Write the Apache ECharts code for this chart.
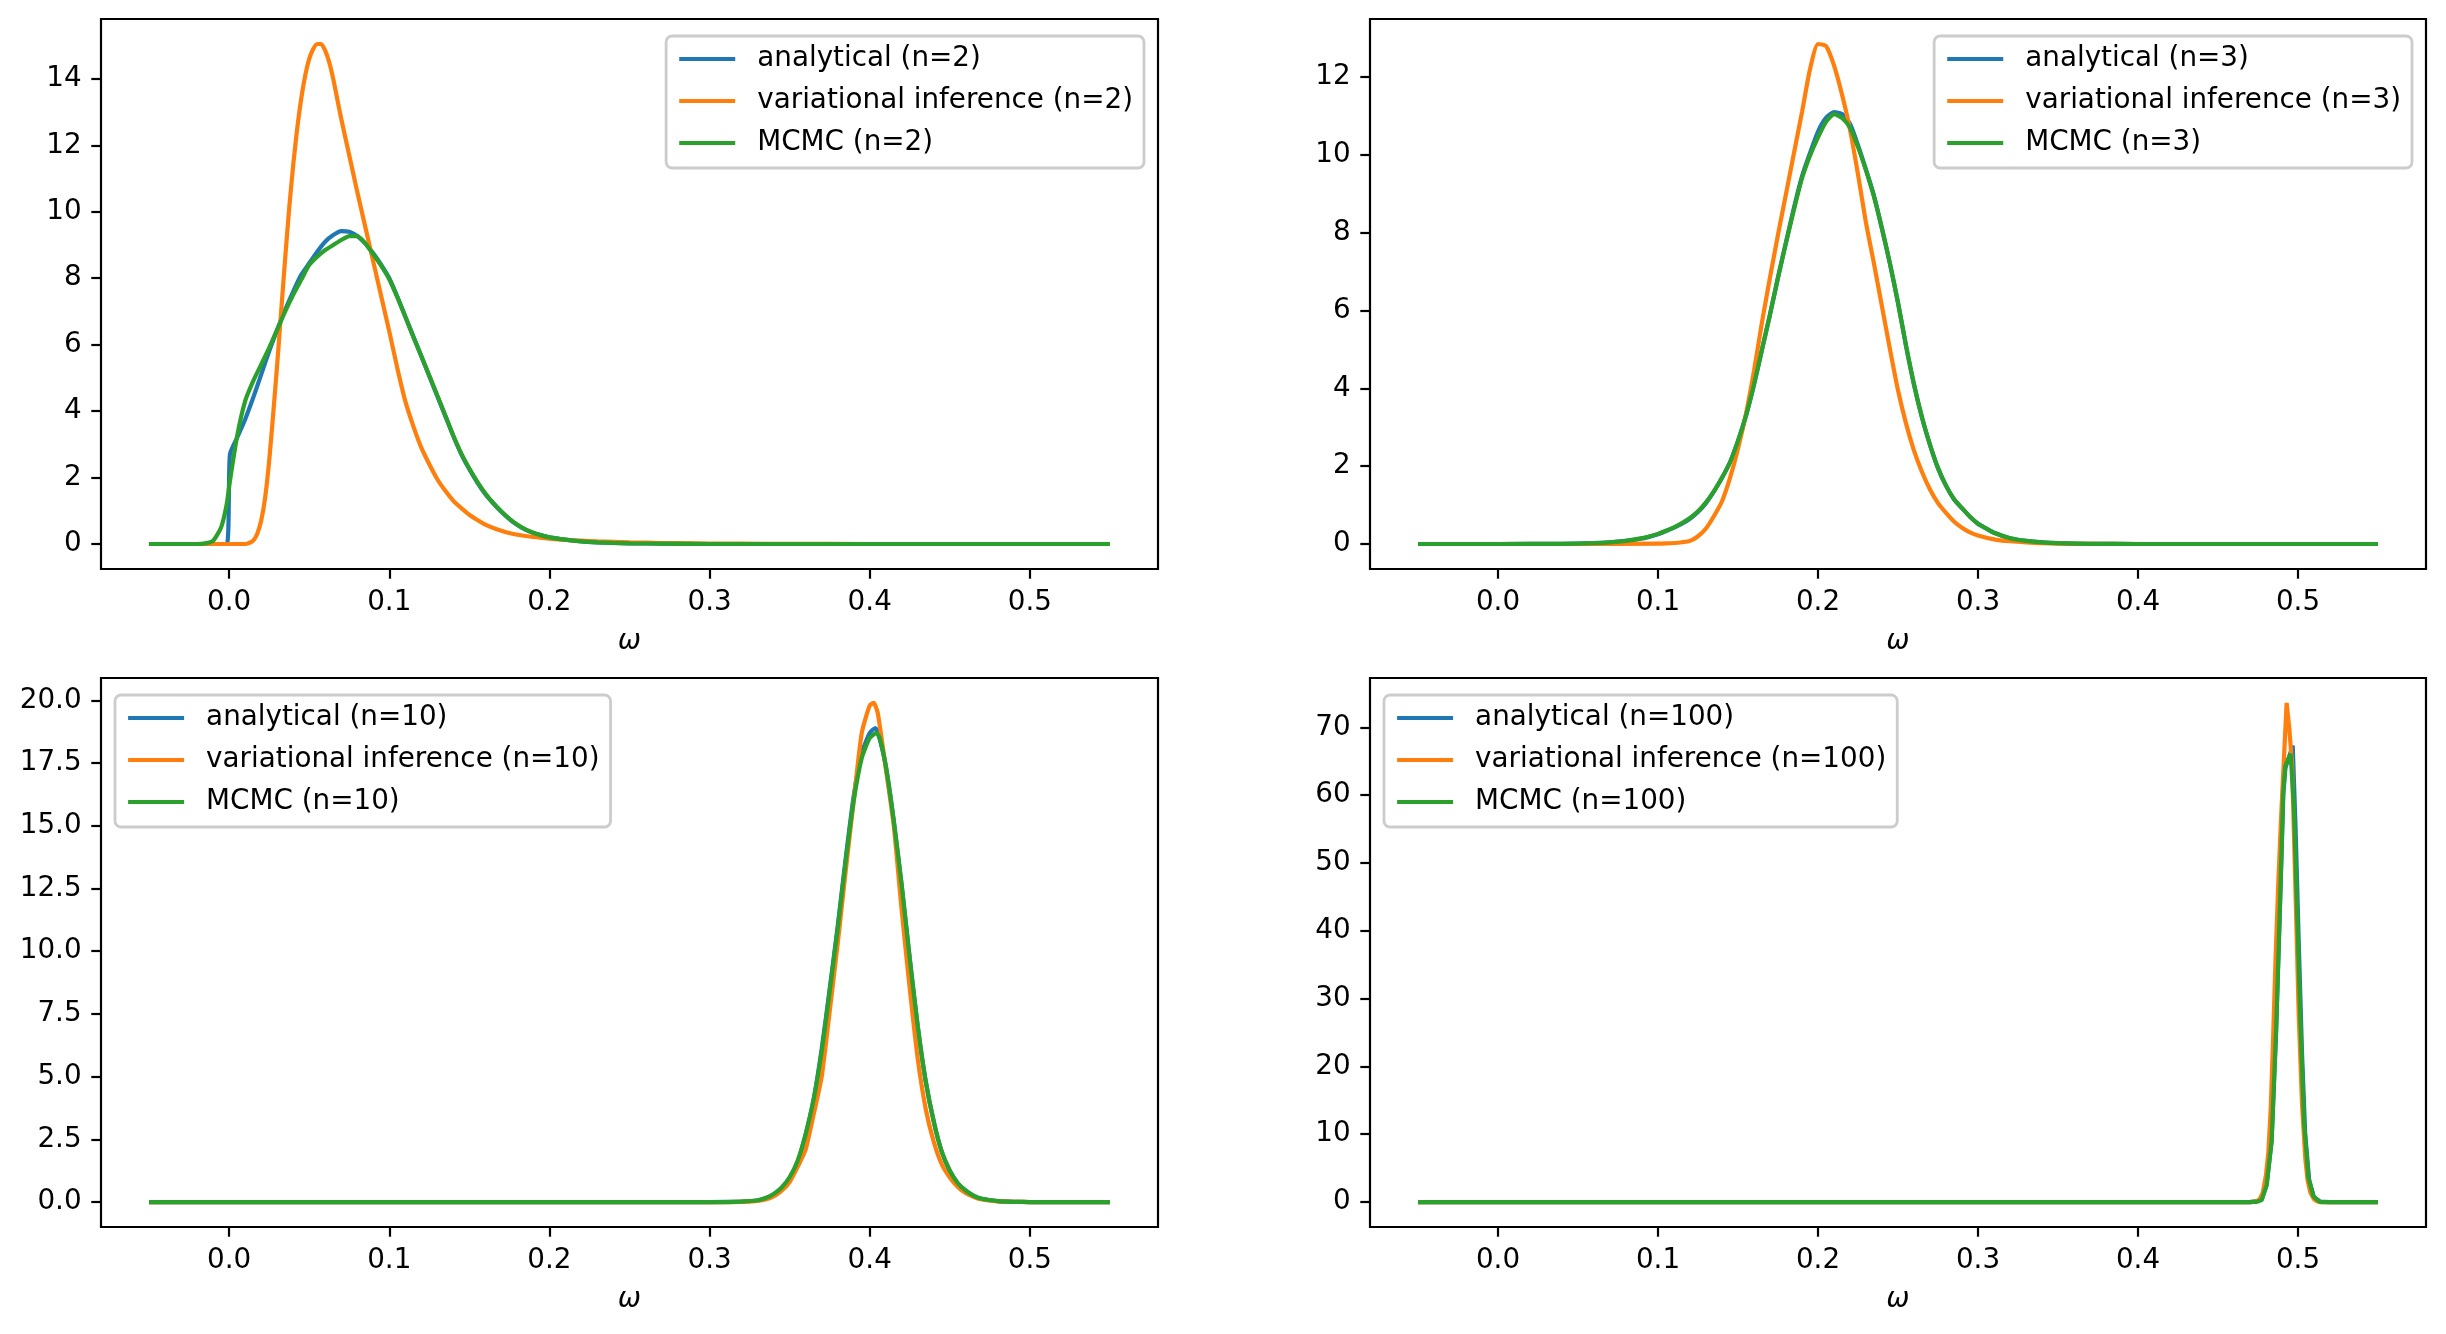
<!DOCTYPE html>
<html>
<head>
<meta charset="utf-8">
<script src="https://cdn.jsdelivr.net/npm/echarts@6/dist/echarts.min.js"></script>
<style>
html,body{margin:0;padding:0;background:#ffffff;}
#chart{width:2446px;height:1334px;}
</style>
</head>
<body>
<div id="chart"></div>
<script>
// ---------------- DATA ----------------
const sampleSizes = [2, 3, 10, 100];
const methods = ['analytical', 'variational inference', 'MCMC'];
const xTicks = [0, 0.1, 0.2, 0.3, 0.4, 0.5];
const yTicksN2 = [0, 2, 4, 6, 8, 10, 12, 14];
const yTicksN3 = [0, 2, 4, 6, 8, 10, 12];
const yTicksN10 = [0, 2.5, 5, 7.5, 10, 12.5, 15, 17.5, 20];
const yTicksN100 = [0, 10, 20, 30, 40, 50, 60, 70];

// n = 2
const analyticalN2 = [[-0.05,0],[-0.01,0],[-0.0015,0],[0.0005,2.7],[0.005,3.2],[0.01,3.75],[0.015,4.4],[0.02,5.1],[0.025,5.8],[0.03,6.45],[0.035,7.05],[0.04,7.6],[0.045,8.1],[0.05,8.45],[0.055,8.8],[0.06,9.1],[0.065,9.3],[0.07,9.42],[0.075,9.4],[0.08,9.27],[0.085,9.05],[0.09,8.75],[0.095,8.4],[0.1,8.0],[0.105,7.45],[0.11,6.85],[0.115,6.25],[0.12,5.65],[0.125,5.05],[0.13,4.45],[0.135,3.85],[0.14,3.25],[0.145,2.7],[0.15,2.25],[0.155,1.85],[0.16,1.5],[0.165,1.22],[0.17,0.97],[0.175,0.75],[0.18,0.57],[0.185,0.43],[0.19,0.33],[0.195,0.26],[0.2,0.2],[0.21,0.13],[0.22,0.08],[0.23,0.05],[0.24,0.03],[0.25,0.02],[0.27,0.01],[0.3,0],[0.55,0]];
const viN2 = [[-0.05,0],[0.01,0],[0.0125,0.03],[0.015,0.1],[0.0175,0.3],[0.02,0.7],[0.0225,1.4],[0.025,2.5],[0.0275,3.9],[0.03,5.4],[0.0325,7.0],[0.035,8.6],[0.0375,10.1],[0.04,11.4],[0.0425,12.5],[0.045,13.4],[0.0475,14.1],[0.05,14.6],[0.0525,14.9],[0.055,15.05],[0.0575,15.05],[0.06,14.85],[0.0625,14.5],[0.065,14.0],[0.0675,13.4],[0.07,12.8],[0.075,11.7],[0.08,10.6],[0.085,9.55],[0.09,8.5],[0.095,7.45],[0.1,6.4],[0.105,5.3],[0.11,4.3],[0.115,3.55],[0.12,2.9],[0.125,2.4],[0.13,1.95],[0.135,1.6],[0.14,1.3],[0.145,1.08],[0.15,0.88],[0.155,0.72],[0.16,0.58],[0.165,0.48],[0.17,0.4],[0.175,0.33],[0.18,0.28],[0.19,0.21],[0.2,0.16],[0.21,0.12],[0.22,0.1],[0.23,0.08],[0.24,0.065],[0.25,0.05],[0.26,0.04],[0.27,0.03],[0.28,0.025],[0.3,0.015],[0.32,0.01],[0.35,0.005],[0.4,0],[0.55,0]];
const mcmcN2 = [[-0.05,0],[-0.02,0],[-0.015,0.02],[-0.01,0.1],[-0.005,0.5],[-0.0015,1.2],[0.0005,1.9],[0.005,3.25],[0.01,4.3],[0.015,4.9],[0.02,5.4],[0.025,5.9],[0.03,6.45],[0.035,7.0],[0.04,7.5],[0.045,7.95],[0.05,8.4],[0.055,8.65],[0.06,8.85],[0.065,9.0],[0.07,9.15],[0.075,9.27],[0.08,9.27],[0.085,9.05],[0.09,8.72],[0.095,8.37],[0.1,7.97],[0.105,7.43],[0.11,6.84],[0.115,6.24],[0.12,5.66],[0.125,5.07],[0.13,4.47],[0.135,3.87],[0.14,3.26],[0.145,2.72],[0.15,2.27],[0.155,1.87],[0.16,1.52],[0.165,1.23],[0.17,0.98],[0.175,0.76],[0.18,0.58],[0.185,0.44],[0.19,0.34],[0.195,0.26],[0.2,0.2],[0.21,0.13],[0.22,0.08],[0.23,0.05],[0.24,0.03],[0.25,0.02],[0.27,0.01],[0.3,0],[0.55,0]];

// n = 3
const analyticalN3 = [[-0.05,0],[0.0,0],[0.04,0.005],[0.06,0.02],[0.07,0.04],[0.08,0.08],[0.09,0.14],[0.095,0.19],[0.1,0.25],[0.105,0.33],[0.11,0.42],[0.115,0.52],[0.12,0.65],[0.125,0.82],[0.13,1.05],[0.135,1.35],[0.14,1.7],[0.145,2.1],[0.15,2.65],[0.155,3.3],[0.16,4.1],[0.165,5.0],[0.17,5.9],[0.175,6.85],[0.18,7.75],[0.185,8.65],[0.19,9.45],[0.195,10.05],[0.2,10.6],[0.205,10.95],[0.21,11.1],[0.215,11.05],[0.22,10.8],[0.225,10.25],[0.23,9.62],[0.235,8.95],[0.24,8.1],[0.245,7.2],[0.25,6.2],[0.255,5.1],[0.26,4.1],[0.265,3.25],[0.27,2.55],[0.275,1.95],[0.28,1.5],[0.285,1.15],[0.29,0.92],[0.295,0.7],[0.3,0.52],[0.305,0.4],[0.31,0.29],[0.32,0.15],[0.33,0.08],[0.34,0.04],[0.35,0.02],[0.37,0.005],[0.4,0],[0.55,0]];
const viN3 = [[-0.05,0],[0.05,0],[0.1,0.01],[0.105,0.015],[0.11,0.025],[0.115,0.045],[0.12,0.08],[0.125,0.2],[0.13,0.4],[0.135,0.72],[0.14,1.1],[0.145,1.7],[0.15,2.45],[0.155,3.35],[0.16,4.45],[0.165,5.7],[0.17,6.85],[0.175,7.95],[0.18,9.0],[0.185,10.05],[0.19,11.1],[0.195,12.2],[0.2,12.85],[0.205,12.8],[0.21,12.3],[0.215,11.55],[0.22,10.65],[0.225,9.5],[0.23,8.25],[0.235,7.2],[0.24,6.1],[0.245,5.0],[0.25,3.95],[0.255,3.1],[0.26,2.4],[0.265,1.85],[0.27,1.4],[0.275,1.05],[0.28,0.8],[0.285,0.58],[0.29,0.42],[0.295,0.3],[0.3,0.22],[0.31,0.12],[0.32,0.07],[0.33,0.04],[0.34,0.02],[0.36,0.005],[0.4,0],[0.55,0]];
const mcmcN3 = [[-0.05,0],[0.0,0],[0.04,0.005],[0.06,0.02],[0.07,0.04],[0.08,0.08],[0.09,0.15],[0.095,0.2],[0.1,0.26],[0.105,0.34],[0.11,0.43],[0.115,0.54],[0.12,0.67],[0.125,0.84],[0.13,1.07],[0.135,1.36],[0.14,1.7],[0.145,2.1],[0.15,2.65],[0.155,3.3],[0.16,4.1],[0.165,5.0],[0.17,5.9],[0.175,6.85],[0.18,7.75],[0.185,8.6],[0.19,9.4],[0.195,9.98],[0.2,10.45],[0.205,10.85],[0.21,11.05],[0.215,10.95],[0.22,10.7],[0.225,10.2],[0.23,9.6],[0.235,8.92],[0.24,8.1],[0.245,7.2],[0.25,6.2],[0.255,5.1],[0.26,4.1],[0.265,3.25],[0.27,2.55],[0.275,1.95],[0.28,1.5],[0.285,1.15],[0.29,0.92],[0.295,0.7],[0.3,0.52],[0.305,0.4],[0.31,0.29],[0.32,0.15],[0.33,0.08],[0.34,0.04],[0.35,0.02],[0.37,0.005],[0.4,0],[0.55,0]];

// n = 10
const analyticalN10 = [[-0.05,0],[0.3,0],[0.32,0.02],[0.33,0.06],[0.335,0.15],[0.34,0.3],[0.345,0.55],[0.35,0.95],[0.355,1.6],[0.36,2.7],[0.365,4.1],[0.37,6.1],[0.375,8.5],[0.38,11.0],[0.385,13.7],[0.39,16.2],[0.395,17.9],[0.4,18.7],[0.4035,18.9],[0.405,18.75],[0.41,17.4],[0.415,15.2],[0.42,12.6],[0.425,9.7],[0.43,7.0],[0.435,4.8],[0.44,3.2],[0.445,2.0],[0.45,1.25],[0.455,0.75],[0.46,0.45],[0.465,0.25],[0.47,0.13],[0.48,0.04],[0.49,0.01],[0.5,0],[0.55,0]];
const viN10 = [[-0.05,0],[0.3,0],[0.32,0.01],[0.33,0.05],[0.335,0.1],[0.34,0.22],[0.345,0.45],[0.35,0.8],[0.355,1.4],[0.36,2.1],[0.365,3.5],[0.37,5.0],[0.375,7.6],[0.38,10.3],[0.385,13.2],[0.39,16.0],[0.395,18.7],[0.4,19.8],[0.4025,19.9],[0.405,19.5],[0.41,17.3],[0.415,15.0],[0.42,11.6],[0.425,8.5],[0.43,5.7],[0.435,3.7],[0.44,2.4],[0.445,1.5],[0.45,0.98],[0.455,0.6],[0.46,0.35],[0.465,0.2],[0.47,0.1],[0.48,0.03],[0.49,0.01],[0.5,0],[0.55,0]];
const mcmcN10 = [[-0.05,0],[0.3,0],[0.32,0.02],[0.33,0.07],[0.335,0.16],[0.34,0.32],[0.345,0.58],[0.35,1.0],[0.355,1.65],[0.36,2.7],[0.365,4.1],[0.37,6.0],[0.375,8.4],[0.38,10.9],[0.385,13.6],[0.39,16.0],[0.395,17.7],[0.4,18.5],[0.404,18.7],[0.406,18.55],[0.41,17.4],[0.415,15.2],[0.42,12.6],[0.425,9.7],[0.43,7.0],[0.435,4.8],[0.44,3.2],[0.445,2.0],[0.45,1.25],[0.455,0.75],[0.46,0.45],[0.465,0.25],[0.47,0.13],[0.48,0.04],[0.49,0.01],[0.5,0],[0.55,0]];

// n = 100
const analyticalN100 = [[-0.05,0],[0.47,0],[0.474,0.1],[0.4773,0.4],[0.4804,2.5],[0.4835,9.0],[0.4863,25.0],[0.4888,44.0],[0.4908,60.0],[0.4921,64.0],[0.4967,67.3],[0.4985,55.0],[0.5005,38.0],[0.5025,22.0],[0.5045,10.0],[0.507,3.2],[0.51,0.7],[0.514,0.05],[0.52,0],[0.55,0]];
const viN100 = [[-0.05,0],[0.47,0],[0.474,0.1],[0.476,0.4],[0.478,1.4],[0.48,4.0],[0.4815,7.4],[0.483,14.0],[0.4846,25.3],[0.486,36.0],[0.4877,47.1],[0.4893,56.0],[0.4908,63.4],[0.4929,73.6],[0.4945,70.0],[0.4963,64.5],[0.4983,47.1],[0.5004,28.0],[0.5025,14.5],[0.5046,6.3],[0.506,3.2],[0.5077,1.4],[0.51,0.4],[0.512,0.1],[0.515,0],[0.55,0]];
const mcmcN100 = [[-0.05,0],[0.47,0],[0.4745,0.05],[0.4773,0.3],[0.4804,2.5],[0.4835,9.0],[0.4863,25.3],[0.4888,44.4],[0.4908,60.7],[0.4921,64.3],[0.4954,66.1],[0.4975,58.0],[0.4996,41.7],[0.5017,25.3],[0.5038,11.7],[0.5065,3.6],[0.5096,0.85],[0.5138,0],[0.55,0]];

// ---------------- CHART ----------------
const panelSeries = [
  [analyticalN2, viN2, mcmcN2],
  [analyticalN3, viN3, mcmcN3],
  [analyticalN10, viN10, mcmcN10],
  [analyticalN100, viN100, mcmcN100]
];
const panelYTicks = [yTicksN2, yTicksN3, yTicksN10, yTicksN100];
const panelYDecimals = [0, 0, 1, 0];
const panelSmooth = [0.2, 0.2, 0.2, false];

const FONT = 'DejaVu Sans';
const FS = 27.8;
const colors = ['#1f77b4', '#ff7f0e', '#2ca02c'];
const gridRects = [
  {left: 101, top: 19, width: 1057, height: 550},
  {left: 1370, top: 19, width: 1056, height: 550},
  {left: 101, top: 678, width: 1057, height: 549},
  {left: 1370, top: 678, width: 1056, height: 549}
];
const legendPos = [
  {right: 1302, top: 36},
  {right: 34, top: 36},
  {left: 115, top: 695},
  {left: 1384, top: 695}
];

const grids = [], xAxes = [], yAxes = [], legends = [], series = [];

panelSeries.forEach((group, i) => {
  const allX = [], allY = [];
  group.forEach(s => s.forEach(p => { allX.push(p[0]); allY.push(p[1]); }));
  const xMinD = Math.min(...allX), xMaxD = Math.max(...allX);
  const yMinD = Math.min(...allY), yMaxD = Math.max(...allY);
  const xm = 0.05 * (xMaxD - xMinD), ym = 0.05 * (yMaxD - yMinD);

  grids.push(Object.assign({show: true, borderColor: '#000', borderWidth: 2.2, backgroundColor: 'transparent', containLabel: false}, gridRects[i]));

  xAxes.push({
    type: 'value', gridIndex: i, position: 'bottom', min: xMinD - xm, max: xMaxD + xm,
    axisLine: {show: false, onZero: false}, splitLine: {show: false},
    axisTick: {show: true, customValues: xTicks, length: 9.7, lineStyle: {color: '#000', width: 2.2}},
    axisLabel: {customValues: xTicks, formatter: v => v.toFixed(1), margin: 19.4, color: '#000', fontSize: FS, fontFamily: FONT},
    name: 'ω', nameLocation: 'middle', nameGap: 73,
    nameTextStyle: {color: '#000', fontSize: FS, fontFamily: FONT, fontStyle: 'italic', verticalAlign: 'middle'}
  });

  const yt = panelYTicks[i], dec = panelYDecimals[i];
  yAxes.push({
    type: 'value', gridIndex: i, position: 'left', min: yMinD - ym, max: yMaxD + ym,
    axisLine: {show: false, onZero: false}, splitLine: {show: false},
    axisTick: {show: true, customValues: yt, length: 9.7, lineStyle: {color: '#000', width: 2.2}},
    axisLabel: {customValues: yt, formatter: v => v.toFixed(dec), margin: 19.4, color: '#000', fontSize: FS, fontFamily: FONT}
  });

  const names = methods.map(m => m + ' (n=' + sampleSizes[i] + ')');
  legends.push(Object.assign({
    data: names, orient: 'vertical', selectedMode: false,
    itemWidth: 56, itemHeight: 28, itemGap: 14,
    padding: [9, 11, 11, 11],
    backgroundColor: 'rgba(255,255,255,0.8)', borderColor: '#cccccc', borderWidth: 2.8, borderRadius: 6,
    textStyle: {color: '#000', fontSize: FS, fontFamily: FONT, padding: [0, 0, 0, 17]},
    itemStyle: {opacity: 0, borderWidth: 0},
    lineStyle: {width: 4.2, opacity: 1}
  }, legendPos[i]));

  group.forEach((data, k) => {
    series.push({
      type: 'line', name: names[k], xAxisIndex: i, yAxisIndex: i, data: data,
      showSymbol: false, symbol: 'none', smooth: panelSmooth[i],
      color: colors[k], itemStyle: {color: colors[k]},
      lineStyle: {color: colors[k], width: 4.2}, z: 2 + k
    });
  });
});

const chart = echarts.init(document.getElementById('chart'), null, {renderer: 'canvas'});
chart.setOption({
  animation: false,
  backgroundColor: '#ffffff',
  textStyle: {fontFamily: FONT},
  grid: grids, xAxis: xAxes, yAxis: yAxes, legend: legends, series: series
});
</script>
</body>
</html>
